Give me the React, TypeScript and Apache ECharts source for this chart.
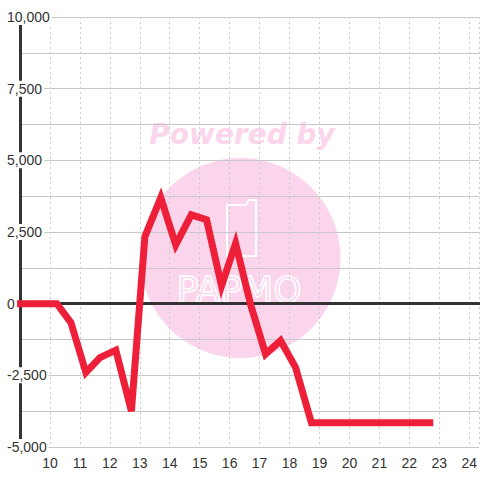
import React, { useEffect, useRef } from 'react';
import * as echarts from 'echarts';

// Time of day (hours) and running value
const hours = [8.9, 10.23, 10.7, 11.2, 11.67, 12.2, 12.72, 13.17, 13.7, 14.2, 14.72, 15.23, 15.73, 16.2, 16.7, 17.2, 17.7, 18.2, 18.73, 22.8];
const values = [0, 0, -660, -2400, -1880, -1620, -3750, 2340, 3700, 2050, 3100, 2930, 620, 2100, -30, -1760, -1290, -2220, -4150, -4150];

const xMin = 9;
const xMax = 24.33;
const yMin = -5000;
const yMax = 10000;
const yGridStep = 1250;
const yLabelStep = 2500;

const watermarkTitle = 'Powered by';
const watermarkBrand = 'PAPMO';

export default function App() {
  const ref = useRef<HTMLDivElement>(null);

  useEffect(() => {
    if (!ref.current) return;
    const chart = echarts.init(ref.current, undefined, { renderer: 'svg' });
    const data = hours.map((h, i) => [h, values[i]]);
    const labelFont = { fontFamily: '"Liberation Sans", Arial, sans-serif', fontSize: 14, color: '#333' };

    chart.setOption({
      animation: false,
      backgroundColor: '#ffffff',
      grid: { left: 20, right: 0, top: 17, bottom: 33, containLabel: false },
      graphic: {
        elements: [
          {
            type: 'circle',
            z: -1,
            silent: true,
            shape: { cx: 240.5, cy: 258, r: 100 },
            style: { fill: '#fbd5eb' },
          },
          {
            type: 'text',
            z: -1,
            silent: true,
            x: 242,
            y: 134,
            style: {
              text: watermarkTitle,
              fill: '#fbd5eb',
              font: 'italic bold 28px "DejaVu Sans", sans-serif',
              textAlign: 'center',
              textVerticalAlign: 'middle',
              align: 'center',
              verticalAlign: 'middle',
            },
          },
          {
            type: 'polygon',
            z: -1,
            silent: true,
            shape: { points: [[227, 205], [246, 205], [249, 200], [256, 200], [256, 256], [227, 256]] },
            style: { fill: 'none', stroke: '#ffffff', lineWidth: 2 },
          },
          {
            type: 'text',
            z: -1,
            silent: true,
            x: 239,
            y: 289,
            style: {
              text: watermarkBrand,
              fill: 'none',
              stroke: '#ffffff',
              lineWidth: 1.5,
              font: '36px "DejaVu Sans", sans-serif',
              textAlign: 'center',
              textVerticalAlign: 'middle',
              align: 'center',
              verticalAlign: 'middle',
            },
          },
        ],
      },
      xAxis: [
        {
          type: 'value',
          position: 'bottom',
          min: xMin,
          max: xMax,
          interval: 1,
          axisLine: { show: false, onZero: false },
          axisTick: { show: false },
          axisLabel: {
            ...labelFont,
            margin: 9,
            showMaxLabel: false,
            formatter: (v: number) => (Number.isInteger(v) && v >= 10 ? String(v) : ''),
          },
          splitLine: { show: true, lineStyle: { color: '#cccccc', type: [2, 3], width: 1 } },
        },
        {
          type: 'value',
          position: 'bottom',
          min: xMin,
          max: xMax,
          axisLine: { show: true, onZero: true, lineStyle: { color: '#333333', width: 3 } },
          axisTick: { show: false },
          axisLabel: { show: false },
          splitLine: { show: false },
        },
      ],
      yAxis: [
        {
          type: 'value',
          position: 'left',
          min: yMin,
          max: yMax,
          interval: yGridStep,
          axisLine: { show: true, onZero: false, lineStyle: { color: '#333333', width: 3 } },
          axisTick: { show: false },
          axisLabel: { show: false },
          splitLine: { show: true, lineStyle: { color: '#c8c8c8', width: 1 } },
        },
        {
          type: 'value',
          position: 'left',
          z: 1,
          min: yMin,
          max: yMax,
          interval: yLabelStep,
          axisLine: { show: false, onZero: false },
          axisTick: { show: false },
          splitLine: { show: false },
          axisLabel: {
            ...labelFont,
            align: 'left',
            margin: 15,
            backgroundColor: '#ffffff',
            padding: [1, 2, 1, 2],
            formatter: (v: number) => v.toLocaleString('en-US'),
          },
        },
      ],
      series: [
        {
          type: 'line',
          xAxisIndex: 0,
          yAxisIndex: 0,
          data,
          showSymbol: false,
          symbol: 'none',
          clip: false,
          lineStyle: { color: '#ee2039', width: 7, join: 'miter', cap: 'butt' },
          silent: true,
        },
      ],
    });

    return () => chart.dispose();
  }, []);

  return <div ref={ref} style={{ position: 'fixed', left: 0, top: 0, width: 480, height: 480 }} />;
}
